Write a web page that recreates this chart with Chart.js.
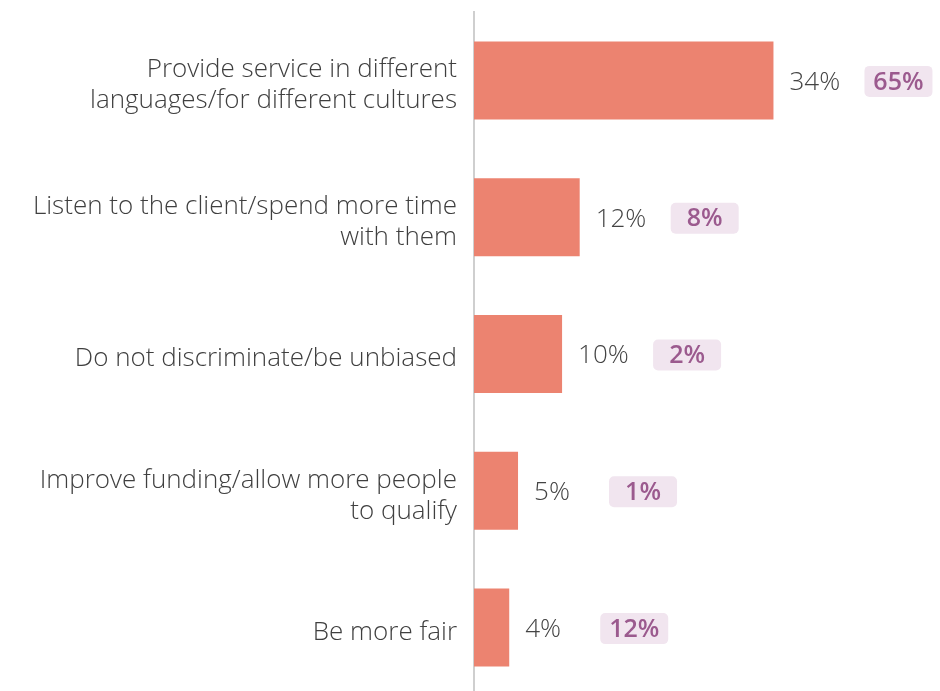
<!DOCTYPE html>
<html lang="en">
<head>
<meta charset="utf-8">
<title>Suggestions</title>
<script src="https://cdn.jsdelivr.net/npm/chart.js"></script>
<style>
    html, body { margin: 0; padding: 0; background: #fff; overflow: hidden; }
    .wrap { width: 940px; height: 700px; }
</style>
</head>
<body>
<div class="wrap"><canvas id="chartjs-bar" width="940" height="700"></canvas></div>
<script>
    const categories = [
        ['Provide service in different', 'languages/for different cultures'],
        ['Listen to the client/spend more time', 'with them'],
        'Do not discriminate/be unbiased',
        ['Improve funding/allow more people', 'to qualify'],
        'Be more fair'
    ];
    const shares = [34, 12, 10, 5, 4];
    const badgeValues = [65, 8, 2, 1, 12];

    const fontFamily = '"Open Sans", "Noto Sans", sans-serif';

    // value next to each bar, then the purple tag a bit further right
    const labelPlugin = {
        id: 'barLabels',
        afterDatasetsDraw(chart) {
            const ctx = chart.ctx;
            const meta = chart.getDatasetMeta(0);
            ctx.save();
            meta.data.forEach((bar, i) => {
                ctx.font = '300 26px ' + fontFamily;
                ctx.fillStyle = '#444444';
                ctx.textAlign = 'left';
                ctx.textBaseline = 'middle';
                ctx.fillText(shares[i] + '%', bar.x + 16, bar.y + 2);

                const cx = bar.x + 125;
                const w = 68, h = 31;
                ctx.fillStyle = '#f1e5ef';
                ctx.beginPath();
                ctx.roundRect(cx - w / 2, bar.y - h / 2 + 1, w, h, 5);
                ctx.fill();
                ctx.font = '600 25px ' + fontFamily;
                ctx.fillStyle = '#9b5a8e';
                ctx.textAlign = 'center';
                ctx.fillText(badgeValues[i] + '%', cx, bar.y + 2);
            });
            ctx.restore();
        }
    };

    const ctx = document.getElementById('chartjs-bar').getContext('2d');
    const chart = new Chart(ctx, {
        type: 'bar',
        data: {
            labels: categories,
            datasets: [{
                data: shares,
                backgroundColor: '#ec8370',
                borderWidth: 0,
                categoryPercentage: 1,
                barPercentage: 0.57
            }]
        },
        plugins: [labelPlugin],
        options: {
            indexAxis: 'y',
            responsive: false,
            animation: false,
            layout: { padding: { top: 12, bottom: 4, left: 0, right: 8 } },
            plugins: {
                legend: { display: false },
                tooltip: { enabled: false }
            },
            scales: {
                x: {
                    display: false,
                    min: 0,
                    max: 52
                },
                y: {
                    grid: { display: false, drawTicks: false },
                    border: { display: true, color: '#cfcfcf', width: 2 },
                    afterFit: (scale) => {
                        scale.width = 474;
                        scale.paddingTop = 0;
                        scale.paddingBottom = 0;
                    },
                    ticks: {
                        color: '#3f3f3f',
                        padding: 17,
                        labelOffset: 5,
                        font: { family: fontFamily, size: 26, weight: '300', lineHeight: 1.2 }
                    }
                }
            }
        }
    });
</script>
</body>
</html>
